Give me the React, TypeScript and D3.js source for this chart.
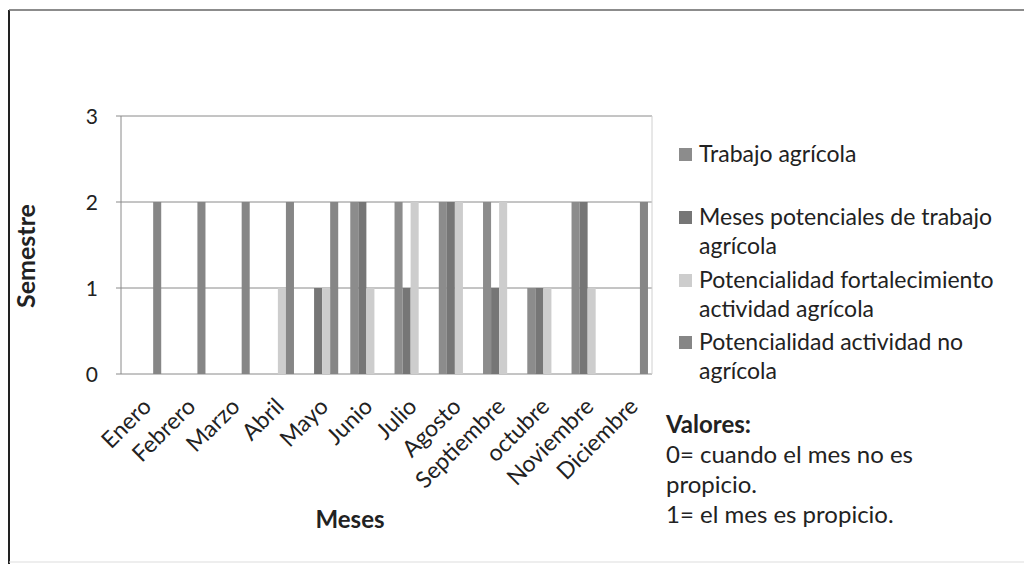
import { useEffect, useRef } from "react";
import * as d3 from "d3";

const months = [
  "Enero", "Febrero", "Marzo", "Abril", "Mayo", "Junio",
  "Julio", "Agosto", "Septiembre", "octubre", "Noviembre", "Diciembre",
];
const seriesNames = [
  "Trabajo agrícola",
  "Meses potenciales de trabajo agrícola",
  "Potencialidad fortalecimiento actividad agrícola",
  "Potencialidad actividad no agrícola",
];
const trabajoAgricola = [0, 0, 0, 0, 0, 2, 2, 2, 2, 1, 2, 0];
const mesesPotenciales = [0, 0, 0, 0, 1, 2, 1, 2, 1, 1, 2, 0];
const fortalecimiento = [0, 0, 0, 1, 1, 1, 2, 2, 2, 1, 1, 0];
const actividadNoAgricola = [2, 2, 2, 2, 2, 0, 0, 0, 0, 0, 0, 2];
const yTicks = [0, 1, 2, 3];
const legendLines = [
  ["Trabajo agrícola"],
  ["Meses potenciales de trabajo", "agrícola"],
  ["Potencialidad fortalecimiento", "actividad agrícola"],
  ["Potencialidad actividad no", "agrícola"],
];
const notes = ["0= cuando el mes no es", "propicio.", "1= el mes es propicio."];

const colors = ["#8c8c8c", "#767676", "#cdcdcd", "#868686"];
const font = "Lato, 'Open Sans', sans-serif";

export default function App() {
  const svgRef = useRef<SVGSVGElement | null>(null);

  useEffect(() => {
    if (!svgRef.current) return;
    const width = 1024;
    const height = 564;
    const margin = { top: 116, right: 372, bottom: 190, left: 121 };
    const series = [trabajoAgricola, mesesPotenciales, fortalecimiento, actividadNoAgricola];

    const svg = d3.select(svgRef.current);
    svg.selectAll("*").remove();

    // scanned page frame
    svg.append("line").attr("x1", 9).attr("x2", 9).attr("y1", 10).attr("y2", height)
      .attr("stroke", "#222").attr("stroke-width", 2);
    svg.append("line").attr("x1", 9).attr("x2", width).attr("y1", 10).attr("y2", 10)
      .attr("stroke", "#666").attr("stroke-width", 1.5);
    svg.append("line").attr("x1", 9).attr("x2", width).attr("y1", 562).attr("y2", 562)
      .attr("stroke", "#ddd").attr("stroke-width", 1);

    const x0 = d3.scaleBand<string>()
      .domain(months)
      .range([margin.left, width - margin.right])
      .paddingInner(0)
      .paddingOuter(0);
    const x1 = d3.scaleBand<number>()
      .domain(d3.range(seriesNames.length))
      .range([0, x0.bandwidth()])
      .paddingOuter(0.75)
      .paddingInner(0);
    const y = d3.scaleLinear().domain([0, 3]).range([height - margin.bottom, margin.top]);

    // gridlines
    svg.append("g")
      .selectAll("line")
      .data(yTicks)
      .join("line")
      .attr("x1", margin.left - 5)
      .attr("x2", width - margin.right)
      .attr("y1", (d) => y(d))
      .attr("y2", (d) => y(d))
      .attr("stroke", "#8a8a8a")
      .attr("stroke-width", 1);
    svg.append("line")
      .attr("x1", margin.left).attr("x2", margin.left)
      .attr("y1", y(3)).attr("y2", y(0))
      .attr("stroke", "#8a8a8a");
    svg.append("line")
      .attr("x1", width - margin.right).attr("x2", width - margin.right)
      .attr("y1", y(3)).attr("y2", y(0))
      .attr("stroke", "#d0d0d0");

    // bars
    const groups = svg.append("g")
      .selectAll("g")
      .data(months)
      .join("g")
      .attr("transform", (m) => `translate(${x0(m)! + 2},0)`);
    groups.selectAll("rect")
      .data((_, i) => series.map((s, k) => ({ k, v: s[i] })))
      .join("rect")
      .attr("x", (d) => x1(d.k)!)
      .attr("width", x1.bandwidth())
      .attr("y", (d) => y(d.v))
      .attr("height", (d) => y(0) - y(d.v))
      .attr("fill", (d) => colors[d.k]);

    // y tick labels
    svg.append("g")
      .selectAll("text")
      .data(yTicks)
      .join("text")
      .attr("x", 98)
      .attr("y", (d) => y(d))
      .attr("dy", "0.36em")
      .attr("text-anchor", "end")
      .attr("font-family", font)
      .attr("font-size", 21)
      .attr("fill", "#222")
      .text((d) => d);

    // x tick labels
    svg.append("g")
      .selectAll("text")
      .data(months)
      .join("text")
      .attr("transform", (m) => `translate(${x0(m)! + x0.bandwidth() / 2 + 9.5},408) rotate(-45)`)
      .attr("text-anchor", "end")
      .attr("font-family", font)
      .attr("font-size", 23)
      .attr("fill", "#222")
      .text((m) => m);

    // axis titles
    svg.append("text")
      .attr("transform", `translate(35,${(y(0) + y(3)) / 2 + 11}) rotate(-90)`)
      .attr("text-anchor", "middle")
      .attr("font-family", font)
      .attr("font-size", 25)
      .attr("font-weight", 700)
      .attr("fill", "#222")
      .text("Semestre");
    svg.append("text")
      .attr("x", 350)
      .attr("y", 528)
      .attr("text-anchor", "middle")
      .attr("font-family", font)
      .attr("font-size", 24)
      .attr("font-weight", 700)
      .attr("fill", "#222")
      .text("Meses");

    // legend
    const legendTop = [154, 217, 280, 342];
    const lg = svg.append("g");
    legendLines.forEach((lines, i) => {
      lg.append("rect")
        .attr("x", 679)
        .attr("y", legendTop[i] - 6)
        .attr("width", 13)
        .attr("height", 13)
        .attr("fill", colors[i]);
      lines.forEach((t, j) => {
        lg.append("text")
          .attr("x", 699)
          .attr("y", legendTop[i] + j * 29)
          .attr("dy", "0.36em")
          .attr("font-family", font)
          .attr("font-size", 23)
          .attr("fill", "#222")
          .text(t);
      });
    });

    // notes
    svg.append("text")
      .attr("x", 666)
      .attr("y", 433)
      .attr("font-family", font)
      .attr("font-size", 24)
      .attr("font-weight", 700)
      .attr("fill", "#222")
      .text("Valores:");
    svg.append("g")
      .selectAll("text")
      .data(notes)
      .join("text")
      .attr("x", 666)
      .attr("y", (_, i) => 463 + i * 30)
      .attr("font-family", font)
      .attr("font-size", 24)
      .attr("fill", "#222")
      .text((d) => d);
  }, []);

  return (
    <div style={{ position: "absolute", left: 0, top: 0, background: "#fff" }}>
      <svg ref={svgRef} width={1024} height={564} style={{ display: "block" }}></svg>
    </div>
  );
}
